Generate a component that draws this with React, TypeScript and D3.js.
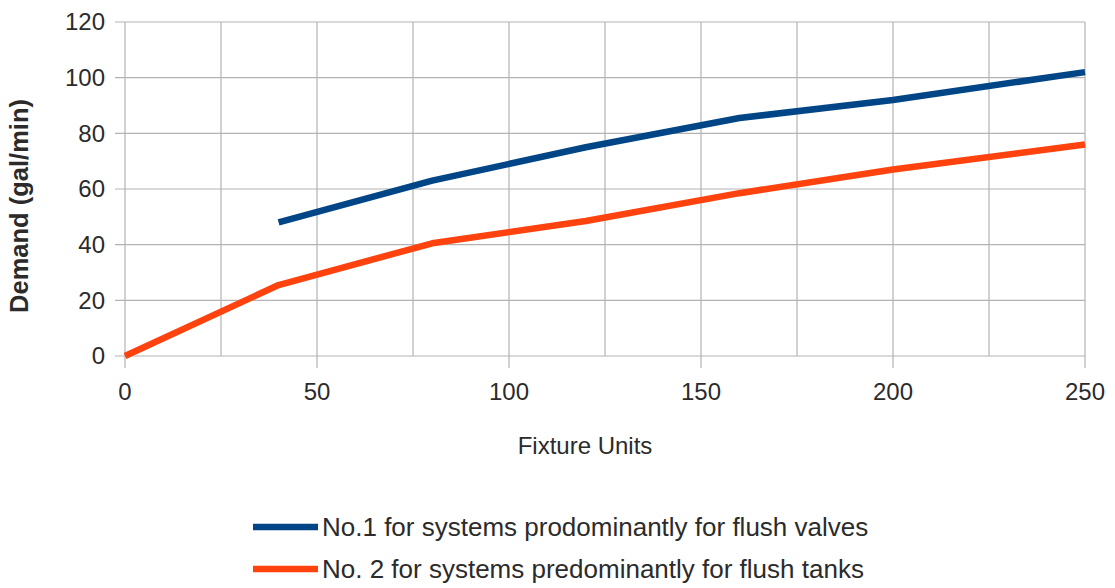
import React from "react";
import * as d3 from "d3";

const valveUnits = [40, 80, 120, 160, 200, 250];
const valveDemand = [48, 63, 75, 85.5, 92, 102];
const tankUnits = [0, 40, 80, 120, 160, 200, 250];
const tankDemand = [0, 25.5, 40.5, 48.5, 58.5, 67, 76];
const xTicks = [0, 50, 100, 150, 200, 250];
const xGrid = [0, 25, 50, 75, 100, 125, 150, 175, 200, 225, 250];
const yTicks = [0, 20, 40, 60, 80, 100, 120];
const seriesNames = [
  "No.1 for systems prodominantly for flush valves",
  "No. 2 for systems predominantly for flush tanks",
];
const seriesColors = ["#004586", "#ff420e"];

export default function App() {
  const W = 1115, H = 588;
  const x = d3.scaleLinear().domain([0, 250]).range([125, 1085]);
  const y = d3.scaleLinear().domain([0, 120]).range([356, 22]);
  const line = d3
    .line<[number, number]>()
    .x((d) => x(d[0]))
    .y((d) => y(d[1]));
  const valve = valveUnits.map((u, i) => [u, valveDemand[i]] as [number, number]);
  const tank = tankUnits.map((u, i) => [u, tankDemand[i]] as [number, number]);
  const grid = "#b3b3b3";
  const txt = "#2b2b2b";
  const font = "'Liberation Sans', Arial, sans-serif";
  return (
    <svg
      width={W}
      height={H}
      style={{ position: "absolute", left: 0, top: 0, background: "#fff" }}
      fontFamily={font}
    >
      {xGrid.map((v) => (
        <line key={"xg" + v} x1={x(v)} x2={x(v)} y1={y(120)} y2={y(0)} stroke={grid} strokeWidth={1.2} />
      ))}
      {yTicks.map((v) => (
        <line key={"yg" + v} x1={x(0) - 10} x2={x(250)} y1={y(v)} y2={y(v)} stroke={grid} strokeWidth={1.2} />
      ))}
      {xTicks.map((v) => (
        <line key={"xt" + v} x1={x(v)} x2={x(v)} y1={y(0)} y2={y(0) + 12} stroke={grid} strokeWidth={1.2} />
      ))}
      {yTicks.map((v) => (
        <text key={"yl" + v} x={105} y={y(v)} dy="0.35em" textAnchor="end" fontSize={24} fill={txt}>
          {v}
        </text>
      ))}
      {xTicks.map((v) => (
        <text key={"xl" + v} x={x(v)} y={400} textAnchor="middle" fontSize={24} fill={txt}>
          {v}
        </text>
      ))}
      <text x={585} y={454} textAnchor="middle" fontSize={24} fill={txt}>
        Fixture Units
      </text>
      <text
        transform={`translate(28,206) rotate(-90)`}
        textAnchor="middle"
        fontSize={25.5}
        fontWeight="bold"
        fill={txt}
      >
        Demand (gal/min)
      </text>
      <path d={line(valve) || ""} fill="none" stroke={seriesColors[0]} strokeWidth={6.5} strokeLinejoin="round" />
      <path d={line(tank) || ""} fill="none" stroke={seriesColors[1]} strokeWidth={6.5} strokeLinejoin="round" />
      {seriesNames.map((n, i) => (
        <g key={n} transform={`translate(0,${527 + i * 42})`}>
          <line x1={253} x2={318} y1={0} y2={0} stroke={seriesColors[i]} strokeWidth={6.5} />
          <text x={322} y={0} dy="0.35em" fontSize={26} fill={txt}>
            {n}
          </text>
        </g>
      ))}
    </svg>
  );
}
